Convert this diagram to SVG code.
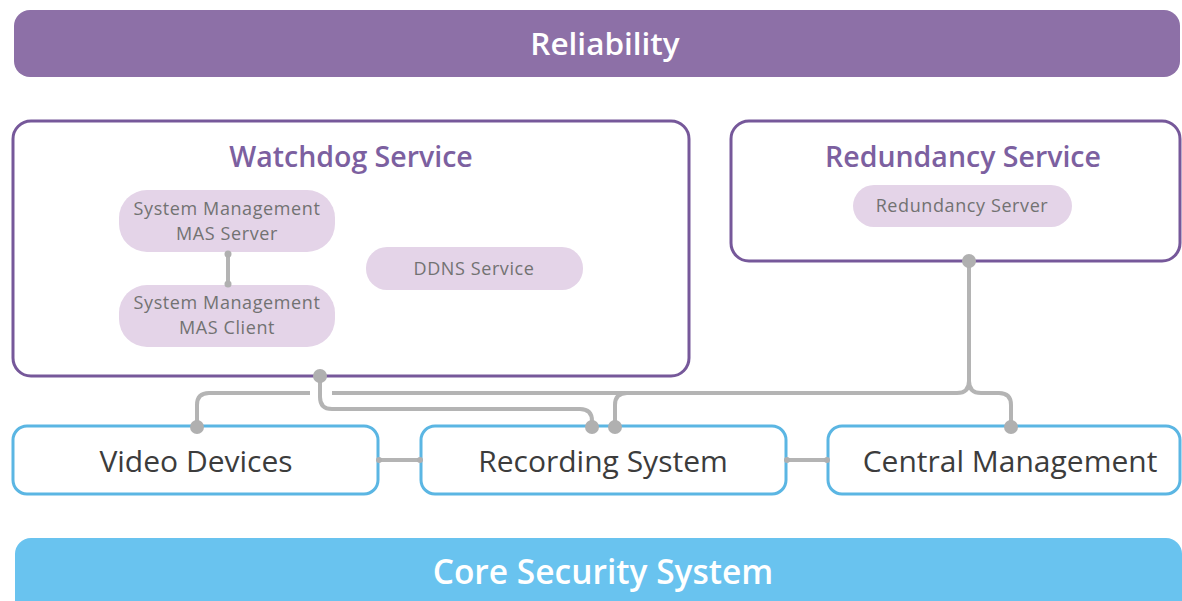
<svg xmlns="http://www.w3.org/2000/svg" width="1182" height="601" viewBox="0 0 1182 601">
<style>
.bar-p{fill:#8d70a7}
.bar-b{fill:#69c3ef}
.svc{fill:#ffffff;stroke:#76589a;stroke-width:3}
.pill{fill:#e4d4e8}
.box{fill:#ffffff;stroke:#5bb6e3;stroke-width:3}
.wt{font-family:"Open Sans","Liberation Sans",sans-serif;font-weight:600;fill:#ffffff;text-anchor:middle}
.st{font-family:"Open Sans","Liberation Sans",sans-serif;font-weight:600;fill:#7c60a0;text-anchor:middle;font-size:28.5px}
.pt{font-family:"Open Sans","Liberation Sans",sans-serif;fill:#727272;text-anchor:middle;font-size:18px;letter-spacing:0.6px}
.bt{font-family:"Open Sans","Liberation Sans",sans-serif;fill:#3c3c3c;text-anchor:middle;font-size:30px}
.ln{fill:none;stroke:#b4b4b4;stroke-width:4}
.dot{fill:#b0b0b0}
</style>
<rect width="1182" height="601" fill="#ffffff"/>
<g id="reliability">
<rect class="bar-p" x="14" y="10" width="1166" height="67" rx="16"/>
<text class="wt" x="605" y="55" font-size="31.5">Reliability</text>
</g>
<g id="watchdog">
<rect class="svc" x="13" y="121" width="676" height="255" rx="18"/>
<text class="st" x="351" y="167">Watchdog Service</text>
</g>
<g id="mas-server">
<rect class="pill" x="119" y="190" width="216" height="62" rx="28"/>
<text class="pt" x="227" y="215">System Management</text>
<text class="pt" x="227" y="240">MAS Server</text>
</g>
<g id="mas-client">
<rect class="pill" x="119" y="285" width="216" height="62" rx="28"/>
<text class="pt" x="227" y="309">System Management</text>
<text class="pt" x="227" y="334">MAS Client</text>
</g>
<g id="ddns">
<rect class="pill" x="366" y="247" width="217" height="43" rx="21"/>
<text class="pt" x="474" y="275">DDNS Service</text>
</g>
<g id="redundancy">
<rect class="svc" x="731" y="121" width="449" height="140" rx="18"/>
<text class="st" x="963" y="167">Redundancy Service</text>
</g>
<g id="redundancy-server">
<rect class="pill" x="853" y="185" width="219" height="42" rx="21"/>
<text class="pt" x="962" y="212">Redundancy Server</text>
</g>
<g id="video-devices">
<rect class="box" x="13" y="426" width="365" height="68" rx="14"/>
<text class="bt" x="196" y="472">Video Devices</text>
</g>
<g id="recording-system">
<rect class="box" x="421" y="426" width="365" height="68" rx="14"/>
<text class="bt" x="603" y="472">Recording System</text>
</g>
<g id="central-management">
<rect class="box" x="828" y="426" width="352" height="68" rx="14"/>
<text class="bt" x="1010" y="472">Central Management</text>
</g>
<g id="core">
<rect class="bar-b" x="15" y="538" width="1167" height="80" rx="16"/>
<text class="wt" x="603" y="584" font-size="33.5">Core Security System</text>
</g>
<g id="connectors">
<path class="ln" d="M228,253 V285"/>
<circle class="dot" cx="228" cy="254" r="3.5"/>
<circle class="dot" cx="228" cy="284" r="3.5"/>
<path class="ln" d="M197,427 V405 Q197,393 209,393 H310 M332,393 H957 Q969,393 969,381 V261"/>
<path class="ln" d="M615,427 V405 Q615,393 627,393"/>
<path class="ln" d="M969,381 Q969,393 981,393 H999 Q1011,393 1011,405 V427"/>
<path class="ln" d="M320,376 V397 Q320,409 332,409 H580 Q592,409 592,421 V427"/>
<path class="ln" d="M379,460 H420 M787,460 H827"/>
<circle class="dot" cx="320" cy="376" r="7"/>
<circle class="dot" cx="969" cy="261" r="7"/>
<circle class="dot" cx="197" cy="427" r="7"/>
<circle class="dot" cx="592" cy="427" r="7"/>
<circle class="dot" cx="615" cy="427" r="7"/>
<circle class="dot" cx="1011" cy="427" r="7"/>
<circle class="dot" cx="379" cy="460" r="3"/>
<circle class="dot" cx="420" cy="460" r="3"/>
<circle class="dot" cx="787" cy="460" r="3"/>
<circle class="dot" cx="827" cy="460" r="3"/>
</g>
</svg>
